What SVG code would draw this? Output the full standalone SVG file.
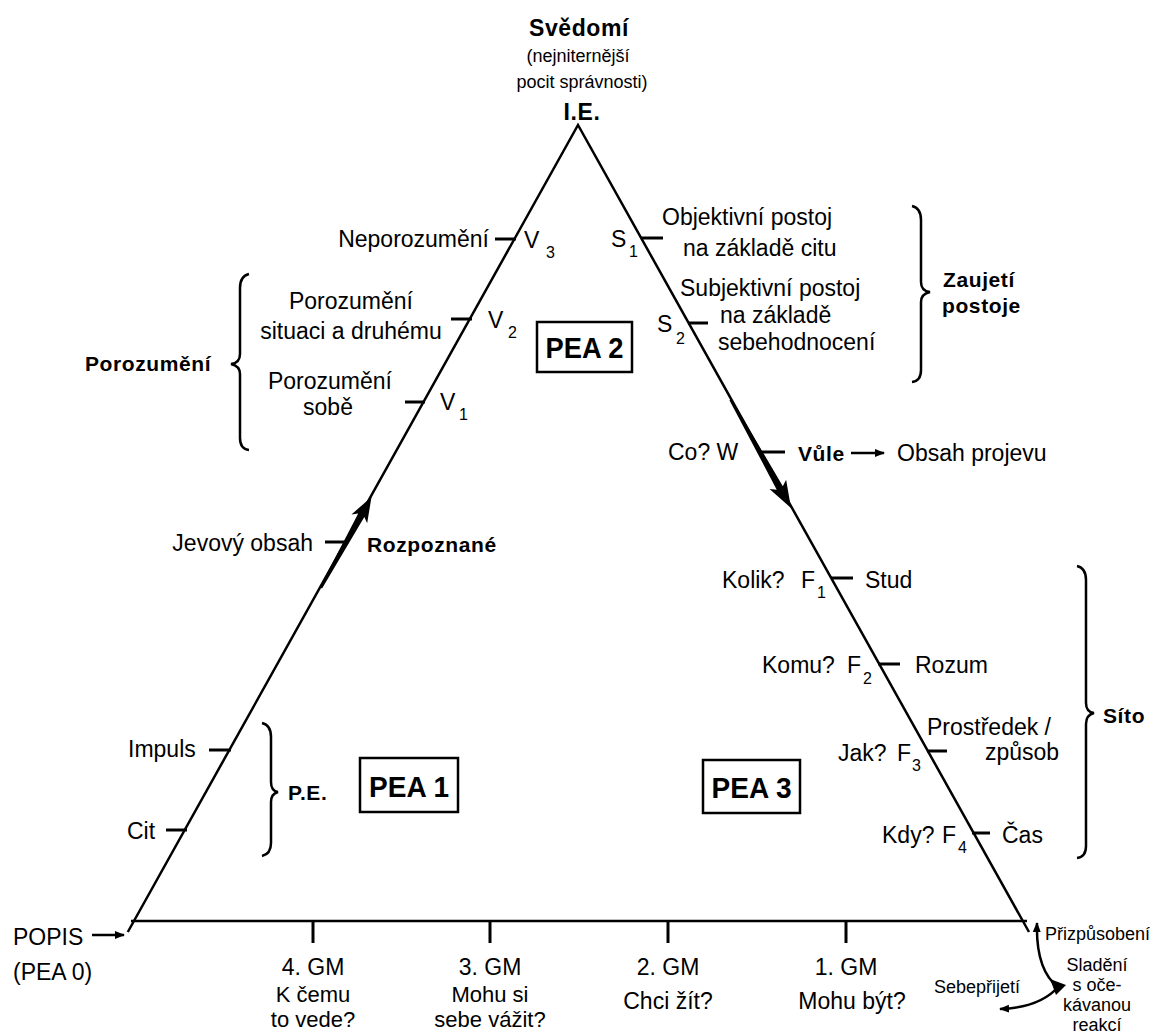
<svg xmlns="http://www.w3.org/2000/svg" width="1157" height="1034" viewBox="0 0 1157 1034">
<style>
text{font-family:"Liberation Sans",Arial,sans-serif;font-size:23px;fill:#000}
.b{font-weight:bold;font-size:21px;letter-spacing:0.6px}
.s{font-size:18px}
.sub{font-size:16px}
.pea{font-weight:bold;font-size:30px}
.m{text-anchor:middle}
.e{text-anchor:end}
.edge{stroke:#000;stroke-width:2.5;fill:none}
.tick{stroke:#000;stroke-width:3}
.brace{stroke:#000;stroke-width:2.5;fill:none}
.box{fill:#fff;stroke:#000;stroke-width:2.5}
</style>
<defs>
<marker id="ah" viewBox="0 0 10 10" refX="9" refY="5" markerWidth="10" markerHeight="10" markerUnits="userSpaceOnUse" orient="auto-start-reverse">
<path d="M0,1 L10,5 L0,9 Z" fill="#000"/>
</marker>
</defs>
<rect width="1157" height="1034" fill="#fff"/>

<g id="connectors">
<path class="edge" d="M127.8,932 L578,125 L1029,932"/>
<path class="edge" stroke-width="3" d="M131,921 L1027,921"/>
<g transform="translate(371.5,497) rotate(-60.8)"><polygon points="0,0 -25,-9 -21,-3.5 -104,-1 -104,1.5 -21,3.5 -25,9" fill="#000"/></g>
<g transform="translate(791,508) rotate(60.8)"><polygon points="0,0 -27,-9.5 -23,-3.5 -124,-1.2 -124,1.2 -23,3.5 -27,9.5" fill="#000"/></g>
<line x1="92" y1="935" x2="124" y2="935" stroke="#000" stroke-width="2.5" marker-end="url(#ah)"/>
<line x1="851" y1="453" x2="884" y2="453" stroke="#000" stroke-width="2.5" marker-end="url(#ah)"/>
<path d="M1037,923 C1036,958 1045,977 1058,987 C1045,1002 1025,1008 1000,1009" fill="none" stroke="#000" stroke-width="2.5" marker-start="url(#ah)" marker-end="url(#ah)"/>
<polygon points="1050,979 1066,985 1056,995" fill="#000"/>
</g>

<g id="apex">
<text class="b m" x="579" y="36" style="font-size:23px">Svědomí</text>
<text class="s m" x="578" y="62">(nejniternější</text>
<text class="s m" x="582" y="88">pocit správnosti)</text>
<text class="b m" x="582" y="120" style="font-size:23px">I.E.</text>
</g>

<g id="v3">
<line class="tick" x1="495" y1="239" x2="516" y2="239"/>
<text class="e" x="489" y="247">Neporozumění</text>
<text x="524" y="248">V</text><text class="sub" x="546" y="258">3</text>
</g>
<g id="v2">
<line class="tick" x1="451" y1="319" x2="472" y2="319"/>
<text class="m" x="351" y="309">Porozumění</text>
<text class="m" x="351" y="339">situaci a druhému</text>
<text x="488" y="328">V</text><text class="sub" x="508" y="338">2</text>
</g>
<g id="v1">
<line class="tick" x1="405" y1="402" x2="425" y2="402"/>
<text class="m" x="330" y="389">Porozumění</text>
<text class="m" x="328" y="415">sobě</text>
<text x="440" y="410">V</text><text class="sub" x="459" y="420">1</text>
</g>
<g id="porozumeni">
<path class="brace" d="M249,274 Q240,276 240,288 L240,354 Q240,363 231,364 Q240,366 240,374 L240,438 Q240,449 249,450"/>
<text class="b" x="85" y="371">Porozumění</text>
</g>
<g id="pea2">
<rect class="box" x="537" y="322" width="95" height="50"/>
<text class="pea m" x="584.5" y="358" textLength="78" lengthAdjust="spacingAndGlyphs">PEA 2</text>
</g>

<g id="s1">
<line class="tick" x1="641" y1="238" x2="663" y2="238"/>
<text x="611" y="247">S</text><text class="sub" x="629" y="257">1</text>
<text x="662" y="225">Objektivní postoj</text>
<text x="683" y="256">na základě citu</text>
</g>
<g id="s2">
<line class="tick" x1="688" y1="323" x2="708" y2="323"/>
<text x="657" y="332">S</text><text class="sub" x="676" y="344">2</text>
<text x="680" y="296">Subjektivní postoj</text>
<text x="720" y="323">na základě</text>
<text x="718" y="350">sebehodnocení</text>
</g>
<g id="zaujeti">
<path class="brace" d="M912,206 Q921,208 921,220 L921,282 Q921,291 930,292 Q921,294 921,302 L921,370 Q921,381 912,382"/>
<text class="b" x="943" y="287">Zaujetí</text>
<text class="b" x="942" y="313">postoje</text>
</g>
<g id="vule">
<line class="tick" x1="761" y1="452" x2="785" y2="452"/>
<text x="668" y="460">Co? W</text>
<text class="b" x="798" y="461">Vůle</text>
<text x="897" y="461">Obsah projevu</text>
</g>

<g id="jevovy">
<line class="tick" x1="325" y1="542" x2="347" y2="542"/>
<text class="e" x="313" y="551">Jevový obsah</text>
<text class="b" x="367" y="552">Rozpoznané</text>
</g>
<g id="impuls">
<line class="tick" x1="209" y1="750" x2="231" y2="750"/>
<text x="128" y="757">Impuls</text>
</g>
<g id="cit">
<line class="tick" x1="166" y1="830" x2="187" y2="830"/>
<text x="127" y="839">Cit</text>
</g>
<g id="pe">
<path class="brace" d="M262,723 Q271,725 271,737 L271,782 Q271,791 278,792 Q271,794 271,802 L271,843 Q271,854 262,856"/>
<text class="b" x="288" y="800">P.E.</text>
</g>
<g id="pea1">
<rect class="box" x="360" y="758" width="98" height="54"/>
<text class="pea m" x="409" y="797" textLength="80" lengthAdjust="spacingAndGlyphs">PEA 1</text>
</g>

<g id="f1">
<line class="tick" x1="831" y1="578" x2="853" y2="578"/>
<text x="722" y="588">Kolik?</text>
<text x="801" y="588">F</text><text class="sub" x="817" y="598">1</text>
<text x="865" y="588">Stud</text>
</g>
<g id="f2">
<line class="tick" x1="878" y1="664" x2="900" y2="664"/>
<text x="762" y="673">Komu?</text>
<text x="847" y="673">F</text><text class="sub" x="863" y="684">2</text>
<text x="915" y="673">Rozum</text>
</g>
<g id="f3">
<line class="tick" x1="927" y1="751" x2="947" y2="751"/>
<text x="838" y="761">Jak?</text>
<text x="897" y="761">F</text><text class="sub" x="912" y="771">3</text>
<text x="927" y="735">Prostředek /</text>
<text x="985" y="760">způsob</text>
</g>
<g id="f4">
<line class="tick" x1="972" y1="833" x2="990" y2="833"/>
<text x="882" y="843">Kdy?</text>
<text x="942" y="843">F</text><text class="sub" x="958" y="853">4</text>
<text x="1002" y="843">Čas</text>
</g>
<g id="sito">
<path class="brace" d="M1077,566 Q1086,568 1086,580 L1086,703 Q1086,712 1094,713 Q1086,715 1086,724 L1086,846 Q1086,857 1077,858"/>
<text class="b" x="1103" y="723">Síto</text>
</g>
<g id="pea3">
<rect class="box" x="703" y="760" width="97" height="53"/>
<text class="pea m" x="751.5" y="798" textLength="80" lengthAdjust="spacingAndGlyphs">PEA 3</text>
</g>

<g id="popis">
<text x="13" y="945">POPIS</text>
<text x="13" y="980">(PEA 0)</text>
</g>
<g id="gm4">
<line class="tick" x1="313" y1="921" x2="313" y2="943"/>
<text class="m" x="313" y="975">4. GM</text>
<text class="m" x="313" y="1002" style="font-size:22px">K čemu</text>
<text class="m" x="313" y="1027" style="font-size:22px">to vede?</text>
</g>
<g id="gm3">
<line class="tick" x1="490" y1="921" x2="490" y2="943"/>
<text class="m" x="490" y="975">3. GM</text>
<text class="m" x="490" y="1002" style="font-size:22px">Mohu si</text>
<text class="m" x="490" y="1027" style="font-size:22px">sebe vážit?</text>
</g>
<g id="gm2">
<line class="tick" x1="668" y1="921" x2="668" y2="943"/>
<text class="m" x="668" y="975">2. GM</text>
<text class="m" x="668" y="1009">Chci žít?</text>
</g>
<g id="gm1">
<line class="tick" x1="846" y1="921" x2="846" y2="943"/>
<text class="m" x="846" y="975">1. GM</text>
<text class="m" x="852" y="1009">Mohu být?</text>
</g>
<g id="prizpusobeni">
<text class="s" x="1045" y="940">Přizpůsobení</text>
</g>
<g id="sladeni">
<text class="s m" x="1097" y="971">Sladění</text>
<text class="s m" x="1097" y="991">s oče-</text>
<text class="s m" x="1097" y="1011">kávanou</text>
<text class="s m" x="1097" y="1031">reakcí</text>
</g>
<g id="sebeprijeti">
<text class="s m" x="977" y="993">Sebepřijetí</text>
</g>
</svg>
